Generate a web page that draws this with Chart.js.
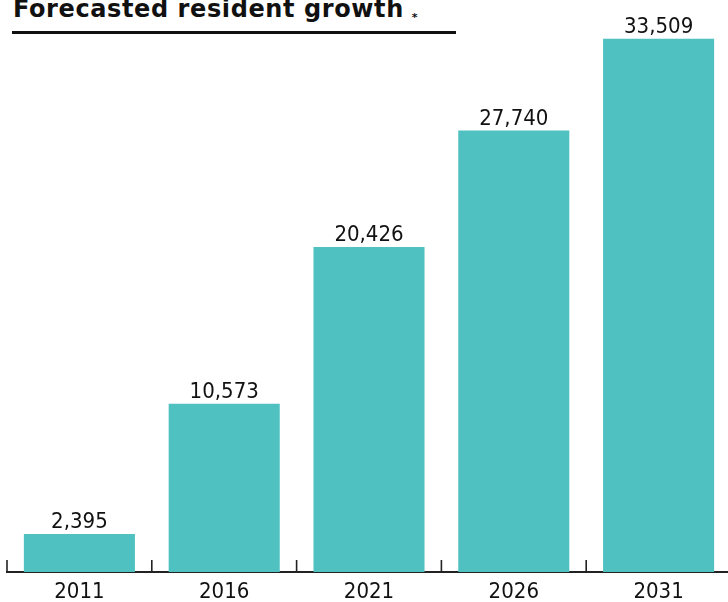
<!DOCTYPE html>
<html>
<head>
<meta charset="utf-8">
<script src="https://cdn.jsdelivr.net/npm/chart.js@4/dist/chart.umd.min.js"></script>
<style>
    html, body {
        margin: 0;
        padding: 0;
        width: 728px;
        height: 602px;
        overflow: hidden;
        background: #ffffff;
    }
    .title {
        position: absolute;
        left: 13px;
        top: -3px;
        font-family: "DejaVu Sans", sans-serif;
        font-weight: 700;
        font-size: 24px;
        line-height: 24px;
        letter-spacing: 0.6px;
        color: #111111;
        white-space: nowrap;
    }
    .title .star {
        font-size: 11px;
        position: relative;
        top: 4px;
        margin-left: 8px;
    }
    .rule {
        position: absolute;
        left: 12px;
        top: 31px;
        width: 444px;
        height: 0;
        border-top: 3px solid #111111;
    }
    #growthChart {
        position: absolute;
        left: 0;
        top: 0;
    }
</style>
</head>
<body>

<div class="title">Forecasted resident growth<span class="star">*</span></div>
<div class="rule"></div>
<canvas id="growthChart" width="736" height="602"></canvas>

<script>
/* ==========================================================
   Forecasted resident growth
   Bar chart with value labels
==========================================================*/

const years = ["2011", "2016", "2021", "2026", "2031"];

const residents = [2395, 10573, 20426, 27740, 33509];

const barColor = "#4fc1c0";

const labelFont = "\"DejaVu Sans Condensed\", \"Liberation Sans Narrow\", sans-serif";

// =====================================
// Value labels above the bars
// =====================================

const valueLabels = {

    id: "valueLabels",

    afterDatasetsDraw(chart) {

        const ctx = chart.ctx;

        const meta = chart.getDatasetMeta(0);

        ctx.save();

        ctx.font = "22px " + labelFont;

        ctx.fillStyle = "#111111";

        ctx.textAlign = "center";

        ctx.textBaseline = "alphabetic";

        meta.data.forEach((bar, i) => {

            const text = residents[i].toLocaleString("en-US");

            ctx.fillText(text, bar.x, bar.y - 6);

        });

        ctx.restore();

    }

};

// =====================================
// Short ticks between the categories
// =====================================

const categoryTicks = {

    id: "categoryTicks",

    afterDraw(chart) {

        const ctx = chart.ctx;

        const scale = chart.scales.x;

        const bottom = chart.chartArea.bottom;

        const step = scale.width / years.length;

        ctx.save();

        ctx.strokeStyle = "#222222";

        ctx.lineWidth = 1.6;

        for (let i = 0; i <= years.length; i++) {

            const x = scale.left + i * step;

            ctx.beginPath();

            ctx.moveTo(x, bottom);

            ctx.lineTo(x, bottom - 12);

            ctx.stroke();

        }

        ctx.restore();

    }

};

// =====================================
// Initialize Chart
// =====================================

const canvas = document.getElementById("growthChart");

new Chart(canvas.getContext("2d"), {

    type: "bar",

    data: {

        labels: years,

        datasets: [

            {

                label: "Residents",

                data: residents,

                backgroundColor: barColor,

                borderWidth: 0,

                barPercentage: 0.767,

                categoryPercentage: 1

            }

        ]

    },

    options: {

        responsive: false,

        animation: false,

        devicePixelRatio: 1,

        layout: {

            padding: { left: 7, right: 5, top: 15, bottom: -10 }

        },

        plugins: {

            legend: { display: false },

            tooltip: { enabled: false }

        },

        scales: {

            x: {

                grid: { display: false, drawTicks: false, tickLength: 0 },

                border: { display: true, color: "#222222", width: 2 },

                ticks: {

                    color: "#111111",

                    padding: 9,

                    font: { family: labelFont, size: 22, lineHeight: 1 }

                }

            },

            y: {

                display: false,

                beginAtZero: true,

                min: 0,

                max: 35000

            }

        }

    },

    plugins: [valueLabels, categoryTicks]

});
</script>

</body>
</html>
